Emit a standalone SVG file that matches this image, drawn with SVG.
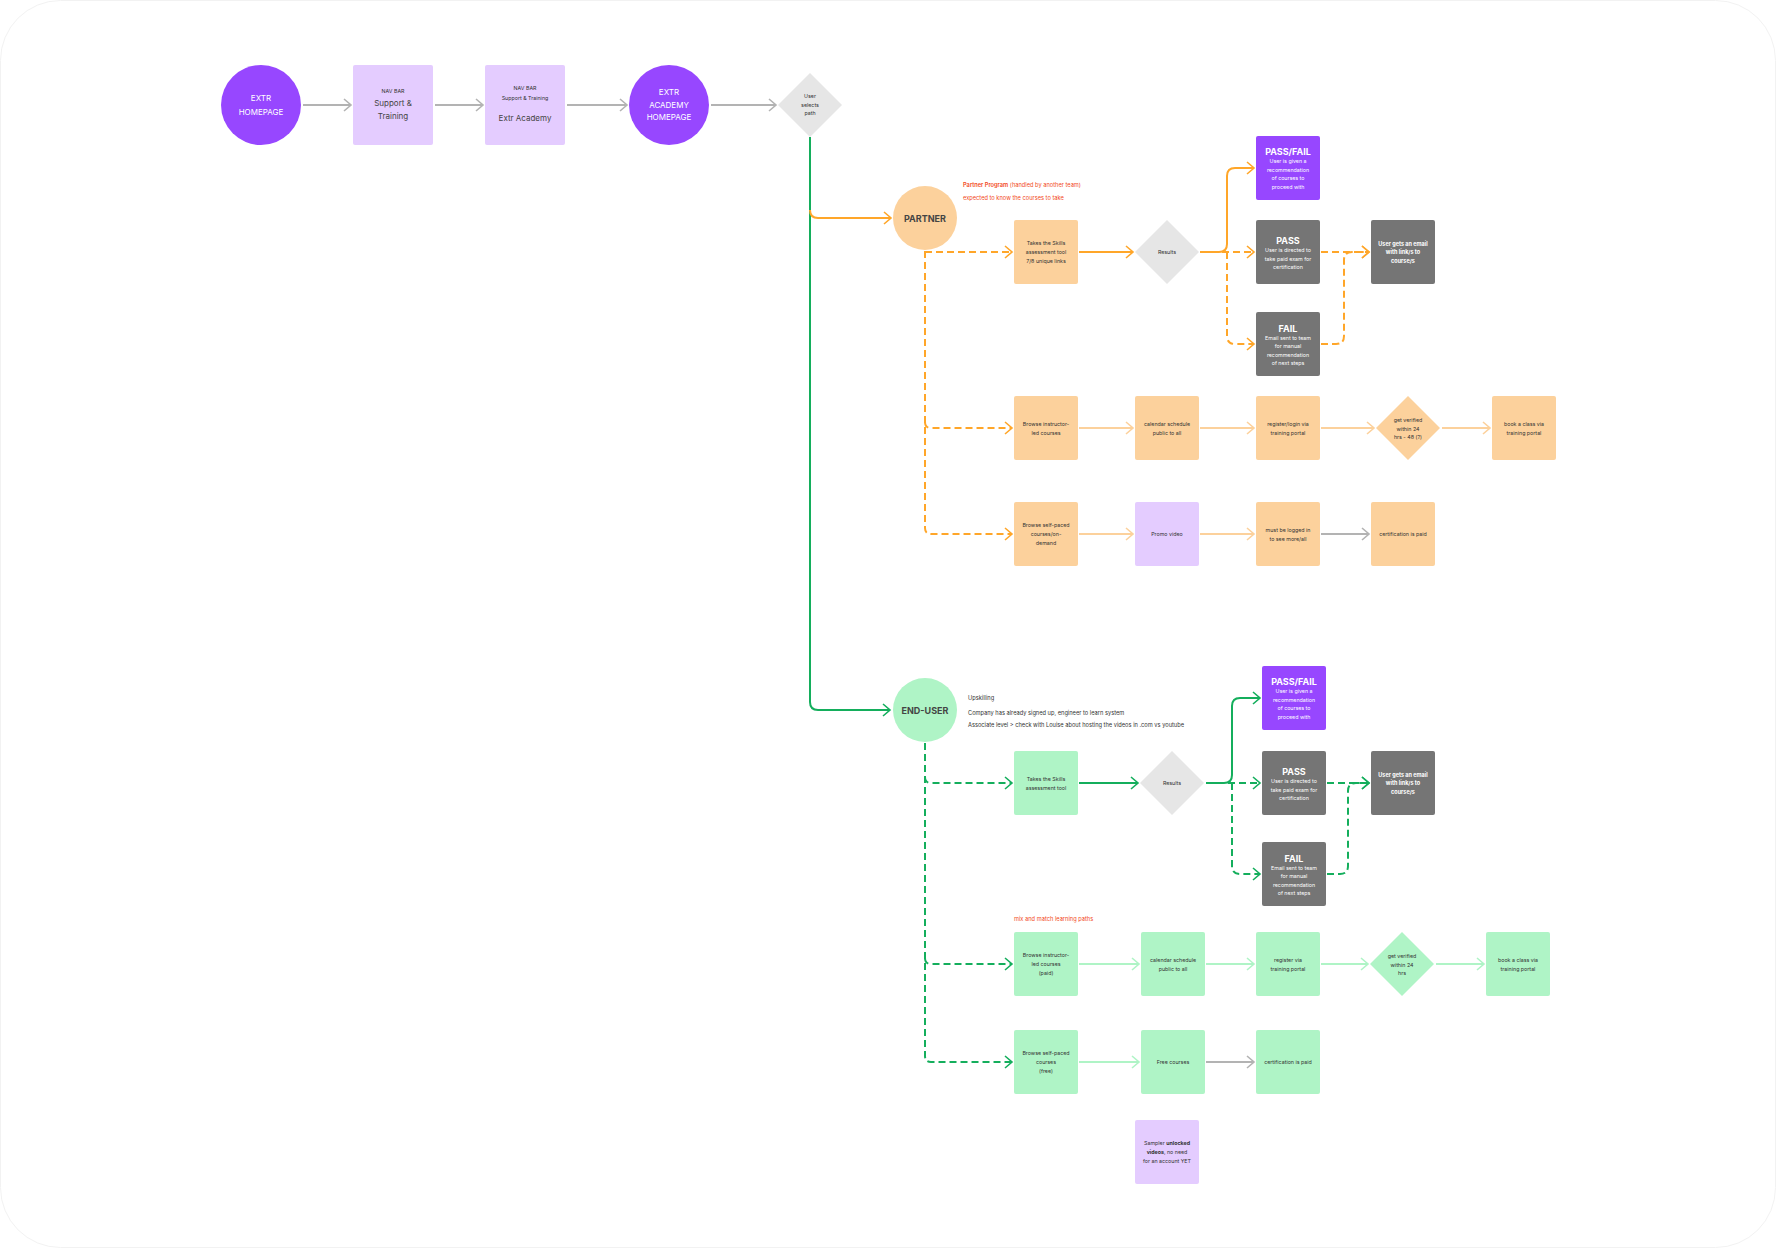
<svg xmlns="http://www.w3.org/2000/svg" width="1776" height="1248" viewBox="0 0 1776 1248">
<defs>
<style>
text{font-family:Inter,"Liberation Sans",Arial,sans-serif;dominant-baseline:central;text-anchor:middle}
.s{font-size:5.3px;fill:#333}
.sw{font-size:5.3px;fill:#fff}
.swb{font-size:5.5px;fill:#fff;font-weight:700}
.m{font-size:8px;fill:#444}
.mw{font-size:8px;fill:#fff}
.h{font-size:9px;fill:#444;font-weight:700}
.hw{font-size:9px;fill:#fff;font-weight:700}
.note{font-size:5.7px;fill:#333;text-anchor:start}
.red{font-size:5.7px;fill:#F24822;text-anchor:start}
.purple{fill:#9747FF}
.lpurple{fill:#E4CCFF}
.orange{fill:#FCD19C}
.green{fill:#AFF4C6}
.grey{fill:#757575}
.dia{fill:#E6E6E6}
.c{fill:none;stroke-width:2}
.cg{stroke:#B3B3B3}
.co{stroke:#FFA629}
.clo{stroke:#FCD19C}
.cgr{stroke:#14AE5C}
.clg{stroke:#AFF4C6}
.d{stroke-dasharray:7 4}
</style>
<marker id="ag" markerUnits="userSpaceOnUse" markerWidth="12" markerHeight="14" refX="8" refY="7" orient="auto"><path d="M1,1 L8,7 L1,13" fill="none" stroke="#B3B3B3" stroke-width="1.6"/></marker>
<marker id="ao" markerUnits="userSpaceOnUse" markerWidth="12" markerHeight="14" refX="8" refY="7" orient="auto"><path d="M1,1 L8,7 L1,13" fill="none" stroke="#FFA629" stroke-width="1.6"/></marker>
<marker id="alo" markerUnits="userSpaceOnUse" markerWidth="12" markerHeight="14" refX="8" refY="7" orient="auto"><path d="M1,1 L8,7 L1,13" fill="none" stroke="#FCD19C" stroke-width="1.6"/></marker>
<marker id="agr" markerUnits="userSpaceOnUse" markerWidth="12" markerHeight="14" refX="8" refY="7" orient="auto"><path d="M1,1 L8,7 L1,13" fill="none" stroke="#14AE5C" stroke-width="1.6"/></marker>
<marker id="alg" markerUnits="userSpaceOnUse" markerWidth="12" markerHeight="14" refX="8" refY="7" orient="auto"><path d="M1,1 L8,7 L1,13" fill="none" stroke="#AFF4C6" stroke-width="1.6"/></marker>
</defs>
<rect x="0.5" y="0.5" width="1775" height="1247" rx="60" fill="#fff" stroke="#F2F2F2"/>

<g id="connectors">
<path class="c cg" d="M303,105 H351" marker-end="url(#ag)"/>
<path class="c cg" d="M435,105 H483" marker-end="url(#ag)"/>
<path class="c cg" d="M567,105 H627" marker-end="url(#ag)"/>
<path class="c cg" d="M711,105 H776" marker-end="url(#ag)"/>
<path class="c cgr" d="M810,137 V702 Q810,710 818,710 H890" marker-end="url(#agr)"/>
<path class="c co" d="M810,210 Q810,218 818,218 H891" marker-end="url(#ao)"/>
<!-- partner -->
<path class="c co d" d="M925,251 V528 Q925,534 931,534 H1012" marker-end="url(#ao)"/>
<path class="c co d" d="M925,252 H1012" marker-end="url(#ao)"/>
<path class="c co d" d="M925,422 Q925,428 931,428 H1012" marker-end="url(#ao)"/>
<path class="c co" d="M1079,252 H1133" marker-end="url(#ao)"/>
<path class="c co" d="M1200,252 H1219 Q1227,252 1227,244 V176 Q1227,168 1235,168 H1254" marker-end="url(#ao)"/>
<path class="c co d" d="M1200,252 H1254" marker-end="url(#ao)"/>
<path class="c co d" d="M1227,252 V336 Q1227,344 1235,344 H1254" marker-end="url(#ao)"/>
<path class="c co d" d="M1321,252 H1369" marker-end="url(#ao)"/>
<path class="c co d" d="M1321,344 H1336 Q1344,344 1344,336 V260 Q1344,252 1352,252 H1369" marker-end="url(#ao)"/>
<path class="c clo" d="M1079,428 H1133" marker-end="url(#alo)"/>
<path class="c clo" d="M1200,428 H1254" marker-end="url(#alo)"/>
<path class="c clo" d="M1321,428 H1374" marker-end="url(#alo)"/>
<path class="c clo" d="M1442,428 H1490" marker-end="url(#alo)"/>
<path class="c clo" d="M1079,534 H1133" marker-end="url(#alo)"/>
<path class="c clo" d="M1200,534 H1254" marker-end="url(#alo)"/>
<path class="c cg" d="M1321,534 H1369" marker-end="url(#ag)"/>
<!-- end-user -->
<path class="c cgr d" d="M925,743 V1056 Q925,1062 931,1062 H1012" marker-end="url(#agr)"/>
<path class="c cgr d" d="M925,777 Q925,783 931,783 H1012" marker-end="url(#agr)"/>
<path class="c cgr d" d="M925,958 Q925,964 931,964 H1012" marker-end="url(#agr)"/>
<path class="c cgr" d="M1079,783 H1138" marker-end="url(#agr)"/>
<path class="c cgr" d="M1206,783 H1224 Q1232,783 1232,775 V706 Q1232,698 1240,698 H1260" marker-end="url(#agr)"/>
<path class="c cgr d" d="M1206,783 H1260" marker-end="url(#agr)"/>
<path class="c cgr d" d="M1232,783 V866 Q1232,874 1240,874 H1260" marker-end="url(#agr)"/>
<path class="c cgr d" d="M1327,783 H1369" marker-end="url(#agr)"/>
<path class="c cgr d" d="M1327,874 H1340 Q1348,874 1348,866 V791 Q1348,783 1356,783 H1369" marker-end="url(#agr)"/>
<path class="c clg" d="M1079,964 H1139" marker-end="url(#alg)"/>
<path class="c clg" d="M1206,964 H1254" marker-end="url(#alg)"/>
<path class="c clg" d="M1321,964 H1368" marker-end="url(#alg)"/>
<path class="c clg" d="M1436,964 H1484" marker-end="url(#alg)"/>
<path class="c clg" d="M1079,1062 H1139" marker-end="url(#alg)"/>
<path class="c cg" d="M1206,1062 H1254" marker-end="url(#ag)"/>
</g>

<!-- top row -->
<g id="extr-homepage"><circle class="purple" cx="261" cy="105" r="40"/><text class="mw" x="261" y="98">EXTR</text><text class="mw" x="261" y="112">HOMEPAGE</text></g>
<g id="nav-support"><rect class="lpurple" x="353" y="65" width="80" height="80" rx="2"/><text class="s" x="393" y="91">NAV BAR</text><text class="m" x="393" y="103">Support &amp;</text><text class="m" x="393" y="116">Training</text></g>
<g id="nav-academy"><rect class="lpurple" x="485" y="65" width="80" height="80" rx="2"/><text class="s" x="525" y="88">NAV BAR</text><text class="s" x="525" y="97.5">Support &amp; Training</text><text class="m" x="525" y="118">Extr Academy</text></g>
<g id="extr-academy-homepage"><circle class="purple" cx="669" cy="105" r="40"/><text class="mw" x="669" y="92">EXTR</text><text class="mw" x="669" y="104.5">ACADEMY</text><text class="mw" x="669" y="117">HOMEPAGE</text></g>
<g id="user-selects-path"><path class="dia" d="M810,73 L842,105 L810,137 L778,105 Z"/><text class="s" x="810" y="96">User</text><text class="s" x="810" y="104.5">selects</text><text class="s" x="810" y="113">path</text></g>

<!-- partner -->
<g id="partner"><circle class="orange" cx="925" cy="218" r="32"/><text class="h" x="925" y="218">PARTNER</text></g>
<g id="partner-note"><text class="red" x="963" y="184"><tspan font-weight="600">Partner Program</tspan> (handled by another team)</text><text class="red" x="963" y="197">expected to know the courses to take</text></g>
<g id="p-skills"><rect class="orange" x="1014" y="220" width="64" height="64" rx="2"/><text class="s" x="1046" y="243">Takes the Skills</text><text class="s" x="1046" y="252">assessment tool</text><text class="s" x="1046" y="261">7/8 unique links</text></g>
<g id="p-results"><path class="dia" d="M1167,220 L1199,252 L1167,284 L1135,252 Z"/><text class="s" x="1167" y="252">Results</text></g>
<g id="p-passfail"><rect class="purple" x="1256" y="136" width="64" height="64" rx="2"/><text class="hw" x="1288" y="151">PASS/FAIL</text><text class="sw" x="1288" y="161">User is given a</text><text class="sw" x="1288" y="169.5">recommendation</text><text class="sw" x="1288" y="178">of courses to</text><text class="sw" x="1288" y="186.5">proceed with</text></g>
<g id="p-pass"><rect class="grey" x="1256" y="220" width="64" height="64" rx="2"/><text class="hw" x="1288" y="240">PASS</text><text class="sw" x="1288" y="250">User is directed to</text><text class="sw" x="1288" y="258.5">take paid exam for</text><text class="sw" x="1288" y="267">certification</text></g>
<g id="p-fail"><rect class="grey" x="1256" y="312" width="64" height="64" rx="2"/><text class="hw" x="1288" y="328">FAIL</text><text class="sw" x="1288" y="337.5">Email sent to team</text><text class="sw" x="1288" y="346">for manual</text><text class="sw" x="1288" y="354.5">recommendation</text><text class="sw" x="1288" y="363">of next steps</text></g>
<g id="p-email"><rect class="grey" x="1371" y="220" width="64" height="64" rx="2"/><text class="swb" x="1403" y="243.5">User gets an email</text><text class="swb" x="1403" y="252">with link/s to</text><text class="swb" x="1403" y="260.5">course/s</text></g>

<g id="p-instructor"><rect class="orange" x="1014" y="396" width="64" height="64" rx="2"/><text class="s" x="1046" y="424">Browse instructor-</text><text class="s" x="1046" y="433">led courses</text></g>
<g id="p-calendar"><rect class="orange" x="1135" y="396" width="64" height="64" rx="2"/><text class="s" x="1167" y="424">calendar schedule</text><text class="s" x="1167" y="433">public to all</text></g>
<g id="p-register"><rect class="orange" x="1256" y="396" width="64" height="64" rx="2"/><text class="s" x="1288" y="424">register/login via</text><text class="s" x="1288" y="433">training portal</text></g>
<g id="p-verified"><path class="orange" d="M1408,396 L1440,428 L1408,460 L1376,428 Z"/><text class="s" x="1408" y="420">get verified</text><text class="s" x="1408" y="428.5">within 24</text><text class="s" x="1408" y="437">hrs - 48 (?)</text></g>
<g id="p-book"><rect class="orange" x="1492" y="396" width="64" height="64" rx="2"/><text class="s" x="1524" y="424">book a class via</text><text class="s" x="1524" y="433">training portal</text></g>

<g id="p-selfpaced"><rect class="orange" x="1014" y="502" width="64" height="64" rx="2"/><text class="s" x="1046" y="525">Browse self-paced</text><text class="s" x="1046" y="534">courses/on-</text><text class="s" x="1046" y="543">demand</text></g>
<g id="p-promo"><rect class="lpurple" x="1135" y="502" width="64" height="64" rx="2"/><text class="s" x="1167" y="534">Promo video</text></g>
<g id="p-loggedin"><rect class="orange" x="1256" y="502" width="64" height="64" rx="2"/><text class="s" x="1288" y="530">must be logged in</text><text class="s" x="1288" y="539">to see more/all</text></g>
<g id="p-cert"><rect class="orange" x="1371" y="502" width="64" height="64" rx="2"/><text class="s" x="1403" y="534">certification is paid</text></g>

<!-- end user -->
<g id="end-user"><circle class="green" cx="925" cy="710" r="32"/><text class="h" x="925" y="710">END-USER</text></g>
<g id="end-user-note"><text class="note" x="968" y="697">Upskilling</text><text class="note" x="968" y="712">Company has already signed up, engineer to learn system</text><text class="note" x="968" y="724">Associate level &gt; check with Louise about hosting the videos in .com vs youtube</text></g>
<g id="e-skills"><rect class="green" x="1014" y="751" width="64" height="64" rx="2"/><text class="s" x="1046" y="779">Takes the Skills</text><text class="s" x="1046" y="788">assessment tool</text></g>
<g id="e-results"><path class="dia" d="M1172,751 L1204,783 L1172,815 L1140,783 Z"/><text class="s" x="1172" y="783">Results</text></g>
<g id="e-passfail"><rect class="purple" x="1262" y="666" width="64" height="64" rx="2"/><text class="hw" x="1294" y="681">PASS/FAIL</text><text class="sw" x="1294" y="691">User is given a</text><text class="sw" x="1294" y="699.5">recommendation</text><text class="sw" x="1294" y="708">of courses to</text><text class="sw" x="1294" y="716.5">proceed with</text></g>
<g id="e-pass"><rect class="grey" x="1262" y="751" width="64" height="64" rx="2"/><text class="hw" x="1294" y="771">PASS</text><text class="sw" x="1294" y="781">User is directed to</text><text class="sw" x="1294" y="789.5">take paid exam for</text><text class="sw" x="1294" y="798">certification</text></g>
<g id="e-fail"><rect class="grey" x="1262" y="842" width="64" height="64" rx="2"/><text class="hw" x="1294" y="858">FAIL</text><text class="sw" x="1294" y="867.5">Email sent to team</text><text class="sw" x="1294" y="876">for manual</text><text class="sw" x="1294" y="884.5">recommendation</text><text class="sw" x="1294" y="893">of next steps</text></g>
<g id="e-email"><rect class="grey" x="1371" y="751" width="64" height="64" rx="2"/><text class="swb" x="1403" y="774.5">User gets an email</text><text class="swb" x="1403" y="783">with link/s to</text><text class="swb" x="1403" y="791.5">course/s</text></g>
<g id="mix-note"><text class="red" x="1014" y="918">mix and match learning paths</text></g>

<g id="e-instructor"><rect class="green" x="1014" y="932" width="64" height="64" rx="2"/><text class="s" x="1046" y="955">Browse instructor-</text><text class="s" x="1046" y="964">led courses</text><text class="s" x="1046" y="973">(paid)</text></g>
<g id="e-calendar"><rect class="green" x="1141" y="932" width="64" height="64" rx="2"/><text class="s" x="1173" y="960">calendar schedule</text><text class="s" x="1173" y="969">public to all</text></g>
<g id="e-register"><rect class="green" x="1256" y="932" width="64" height="64" rx="2"/><text class="s" x="1288" y="960">register via</text><text class="s" x="1288" y="969">training portal</text></g>
<g id="e-verified"><path class="green" d="M1402,932 L1434,964 L1402,996 L1370,964 Z"/><text class="s" x="1402" y="956">get verified</text><text class="s" x="1402" y="964.5">within 24</text><text class="s" x="1402" y="973">hrs</text></g>
<g id="e-book"><rect class="green" x="1486" y="932" width="64" height="64" rx="2"/><text class="s" x="1518" y="960">book a class via</text><text class="s" x="1518" y="969">training portal</text></g>

<g id="e-selfpaced"><rect class="green" x="1014" y="1030" width="64" height="64" rx="2"/><text class="s" x="1046" y="1053">Browse self-paced</text><text class="s" x="1046" y="1062">courses</text><text class="s" x="1046" y="1071">(free)</text></g>
<g id="e-free"><rect class="green" x="1141" y="1030" width="64" height="64" rx="2"/><text class="s" x="1173" y="1062">Free courses</text></g>
<g id="e-cert"><rect class="green" x="1256" y="1030" width="64" height="64" rx="2"/><text class="s" x="1288" y="1062">certification is paid</text></g>
<g id="e-sampler"><rect class="lpurple" x="1135" y="1120" width="64" height="64" rx="2"/><text class="s" x="1167" y="1143">Sampler <tspan font-weight="700">unlocked</tspan></text><text class="s" x="1167" y="1152"><tspan font-weight="700">videos</tspan>, no need</text><text class="s" x="1167" y="1161">for an account YET</text></g>
</svg>
